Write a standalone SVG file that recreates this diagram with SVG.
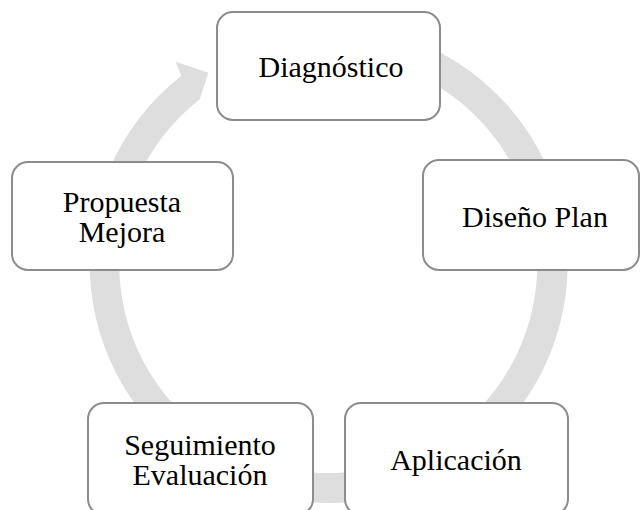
<svg xmlns="http://www.w3.org/2000/svg" width="641" height="510" viewBox="0 0 641 510">
<style>
.box{fill:#ffffff;stroke:#8c8c8c;stroke-width:2}
.lbl{font-family:'Liberation Serif',serif;font-size:30px;fill:#000;text-anchor:middle}
.ring{fill:#dedede;stroke:none}
</style>
<rect width="641" height="510" fill="#ffffff"/>
<g id="connectors">
<path class="ring" d="M227.5,47.4 A239,239 0 1 1 181.4,75.7 L175.7,61.7 L208.3,72.7 L199.8,99.3 A209,209 0 1 0 240.2,74.6 Z"/>
</g>
<g id="node-diagnostico">
<rect class="box" x="217" y="12" width="223" height="108" rx="16"/>
<text class="lbl" x="331" y="77" font-family="Liberation Serif">Diagnóstico</text>
</g>
<g id="node-diseno">
<rect class="box" x="423" y="160" width="216" height="110" rx="16"/>
<text class="lbl" x="535" y="227" font-family="Liberation Serif">Diseño Plan</text>
</g>
<g id="node-aplicacion">
<rect class="box" x="345" y="403" width="223" height="112" rx="16"/>
<text class="lbl" x="456" y="470" font-family="Liberation Serif">Aplicación</text>
</g>
<g id="node-seguimiento">
<rect class="box" x="88" y="403" width="225" height="112" rx="16"/>
<text class="lbl" x="200" y="455" font-family="Liberation Serif">Seguimiento</text>
<text class="lbl" x="200" y="485" font-family="Liberation Serif">Evaluación</text>
</g>
<g id="node-propuesta">
<rect class="box" x="12" y="162" width="221" height="108" rx="16"/>
<text class="lbl" x="122" y="212" font-family="Liberation Serif">Propuesta</text>
<text class="lbl" x="122" y="242" font-family="Liberation Serif">Mejora</text>
</g>
</svg>
